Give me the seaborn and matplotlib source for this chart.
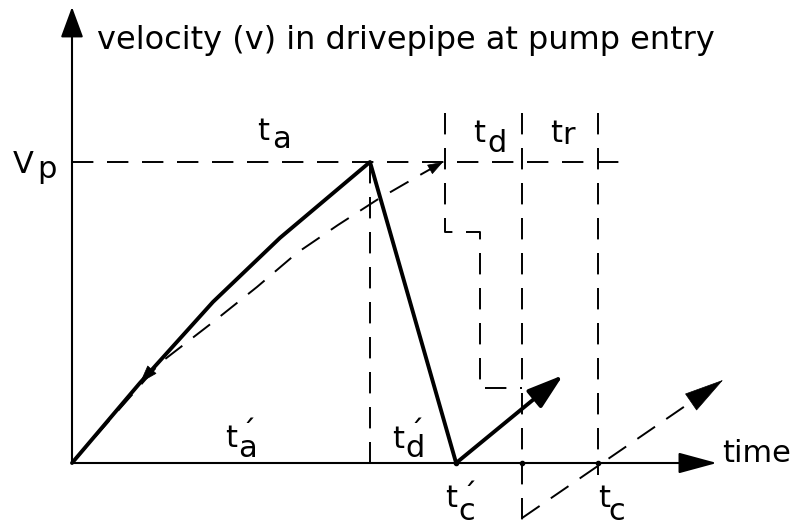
import numpy as np
import seaborn as sns
import matplotlib.pyplot as plt
from matplotlib.transforms import offset_copy

sns.set_style("white")
plt.rcParams['font.family'] = ['DejaVu Sans']
plt.rcParams['text.color'] = 'black'

# time in units of t'_a, velocity in units of Vp
# accelerating phase (solid) then deceleration to t'_c
t_solid = [0.0, 0.228, 0.473, 0.698, 1.0, 1.289]
v_solid = [0.0, 0.266, 0.535, 0.748, 1.0, 0.0]
# next cycle start (solid arrow)
t_next = [1.289, 1.648]
v_next = [0.0, 0.292]

# reference (dashed) acceleration curve reaching Vp at t_a
t_dash = [0.0, 0.295, 0.473, 0.621, 0.755, 0.893, 1.023, 1.168, 1.245]
v_dash = [0.0, 0.332, 0.468, 0.585, 0.698, 0.791, 0.874, 0.957, 1.0]

# valve closing step (dashed)
t_step = [1.252, 1.252, 1.369, 1.369, 1.510]
v_step = [1.163, 0.767, 0.767, 0.249, 0.249]

# dashed next-cycle arrow
t_cycle = [1.510, 2.185]
v_cycle = [-0.183, 0.276]

# vertical dashed markers: (time, top, bottom)
t_marks = [1.0, 1.510, 1.765]
v_mark_top = [1.0, 1.163, 1.163]
v_mark_bottom = [0.0, -0.196, -0.04]

vp_end = 1.839
x_axis_end = 2.164
y_axis_end = 1.515

fig = plt.figure(figsize=(7.93, 5.29), dpi=100)
ax = fig.add_axes([0, 0, 1, 1])
ax.set_xlim(-72 / 298, (793 - 72) / 298)
ax.set_ylim(-66 / 301, 463 / 301)
ax.axis('off')

dash = (0, (11, 7))
dlw = 1.4


def arrow(tip, tail, hl, hw, lw=1.5):
    ax.annotate('', xy=tip, xytext=tail,
                arrowprops=dict(arrowstyle=f'-|>,head_length={hl},head_width={hw}',
                                color='black', lw=lw, shrinkA=0, shrinkB=0,
                                mutation_scale=1))


def head(p0, p1, hl, hw):
    # arrow head only, at p1 pointing away from p0
    d = np.array(p1) - np.array(p0)
    tail = np.array(p1) - 0.01 * d / np.linalg.norm(d)
    arrow(p1, tail, hl, hw, lw=0.5)


# axes
arrow((x_axis_end, 0), (0, 0), 24, 6.5)
arrow((0, y_axis_end), (0, 0), 19, 7)

# Vp line
sns.lineplot(x=[0, vp_end], y=[1, 1], ax=ax, color='black', lw=dlw, linestyle=dash)

# vertical markers
for t, top, bot in zip(t_marks, v_mark_top, v_mark_bottom):
    sns.lineplot(x=[t, t], y=[top, bot], ax=ax, color='black', lw=dlw,
                 linestyle=dash, sort=False, estimator=None)

sns.lineplot(x=t_step, y=v_step, ax=ax, color='black', lw=dlw, linestyle=dash,
             sort=False, estimator=None)

sns.lineplot(x=t_dash, y=v_dash, ax=ax, color='black', lw=dlw, linestyle=dash,
             sort=False, estimator=None)
head((t_dash[-2], v_dash[-2]), (t_dash[-1], v_dash[-1]), 10, 3.5)

sns.lineplot(x=t_cycle, y=v_cycle, ax=ax, color='black', lw=dlw, linestyle=dash,
             sort=False, estimator=None)
head((t_cycle[0], v_cycle[0]), (t_cycle[1], v_cycle[1]), 27, 7)

sns.lineplot(x=t_solid, y=v_solid, ax=ax, color='black', lw=2.8,
             sort=False, estimator=None)
arrow((t_next[1], v_next[1]), (t_next[0], v_next[0]), 22, 7, lw=2.8)
# small arrow on the rising curve
head((t_solid[2], v_solid[2]), (t_solid[1], v_solid[1]), 12, 4)

ax.plot([1.289, 1.510, 1.765], [0, 0, 0], 'o', color='black', ms=3)

fs = 22


def label(t, v, main, sub=None, dx=0, dy=0, prime=False):
    ax.text(t, v, main, fontsize=fs, ha='left', va='baseline')
    if sub:
        tr = offset_copy(ax.transData, fig=fig, x=dx, y=-dy, units='dots')
        ax.text(t, v, sub, transform=tr, fontsize=fs, ha='left', va='baseline')
        if prime:
            tr2 = offset_copy(ax.transData, fig=fig, x=dx + 3, y=15 - dy,
                              units='dots')
            ax.text(t, v, "\u00b4", transform=tr2, fontsize=fs,
                    ha='left', va='baseline')


label(0.084, 1.375, "velocity (v) in drivepipe at pump entry")
ax.texts[-1].set_fontsize(23)
label(-0.198, 0.963, "V", "p", 24, 5)
label(0.621, 1.073, "t", "a", 15, 8)
label(1.346, 1.066, "t", "d", 14, 10)
label(1.604, 1.066, "t", "r", 12, 2)
label(0.513, 0.053, "t", "a", 13, 10, prime=True)
label(1.074, 0.050, "t", "d", 13, 9, prime=True)
label(1.252, -0.146, "t", "c", 13, 13, prime=True)
label(1.765, -0.146, "t", "c", 10, 13)
label(2.181, 0.003, "time")

plt.savefig("out.png", dpi=100)
